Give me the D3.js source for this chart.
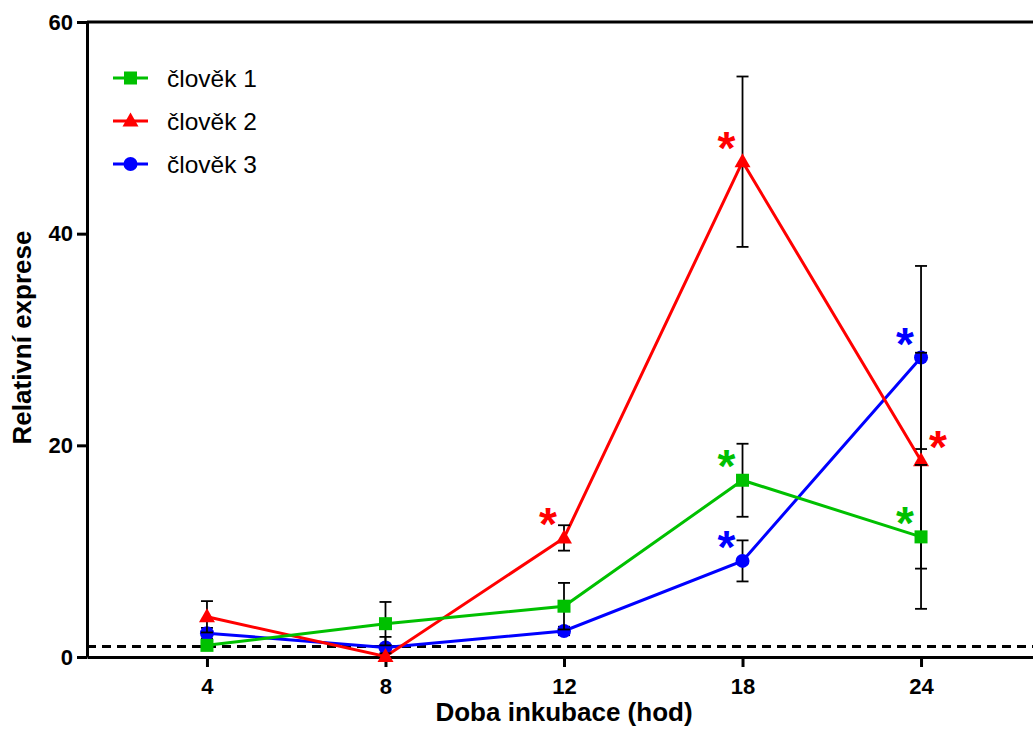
<!DOCTYPE html>
<html>
<head>
<meta charset="utf-8">
<script src="https://cdn.jsdelivr.net/npm/d3@7"></script>
<style>
  body { margin: 0; background: #fff; }
  svg { display: block; font-family: "Liberation Sans", Arial, sans-serif; }
</style>
</head>
<body>
<div id="chart"></div>
<script>
// data
var hours = ["4", "8", "12", "18", "24"];
var names = ["člověk 1", "člověk 2", "člověk 3"];
var colors = ["#00c000", "#ff0000", "#0000ff"];
var symbols = ["square", "triangle", "circle"];

var mean1 = [1.1, 3.15, 4.8, 16.7, 11.35];
var err1 = [0.3, 2.05, 2.2, 3.45, 6.8];
var mean2 = [3.8, 0.05, 11.25, 46.8, 18.55];
var err2 = [1.48, 0.3, 1.2, 8.05, 10.2];
var mean3 = [2.25, 0.9, 2.46, 9.08, 28.3];
var err3 = [0.5, 1.0, 0.4, 1.94, 8.65];

var yTicks = [0, 20, 40, 60];
var baseline = 1;

// significance stars: series index, time index, side
var stars = [
    { s: 1, i: 2, side: "left" },
    { s: 1, i: 3, side: "left" },
    { s: 1, i: 4, side: "right" },
    { s: 0, i: 3, side: "left" },
    { s: 0, i: 4, side: "left" },
    { s: 2, i: 3, side: "left" },
    { s: 2, i: 4, side: "left" }
];

{
    var width = 1033, height = 738;
    var margin = { top: 22, right: -8, bottom: 81, left: 87 };

    var series = names.map((n, k) => ({
        name: n,
        color: colors[k],
        symbol: symbols[k],
        values: [mean1, mean2, mean3][k].map((m, i) => ({
            hour: hours[i],
            mean: m,
            err: [err1, err2, err3][k][i]
        }))
    }));

    var svg = d3.select("#chart").append("svg")
        .attr("width", width)
        .attr("height", height);

    var x = d3.scalePoint()
        .domain(hours)
        .range([margin.left, width - margin.right])
        .padding(0.672);

    var y = d3.scaleLinear()
        .domain([0, 60])
        .range([height - margin.bottom, margin.top]);

    function drawSymbol(g, type, color) {
        if (type === "square") {
            g.append("rect")
                .attr("x", -6.5).attr("y", -6.5)
                .attr("width", 13).attr("height", 13)
                .attr("fill", color);
        } else if (type === "circle") {
            g.append("circle").attr("r", 7).attr("fill", color);
        } else {
            g.append("path")
                .attr("d", "M0,-8.5L8,5.5L-8,5.5Z")
                .attr("fill", color);
        }
    }

    // top frame line
    svg.append("line")
        .attr("x1", margin.left).attr("x2", width - margin.right)
        .attr("y1", y(60)).attr("y2", y(60))
        .attr("stroke", "#000").attr("stroke-width", 3);

    // axes
    var gx = svg.append("g")
        .attr("transform", `translate(0,${y(0)})`)
        .call(d3.axisBottom(x).tickSize(10).tickSizeOuter(0).tickPadding(11));

    var gy = svg.append("g")
        .attr("transform", `translate(${margin.left},0)`)
        .call(d3.axisLeft(y).tickValues(yTicks).tickSize(10).tickSizeOuter(0).tickPadding(4));

    [gx, gy].forEach(g => {
        g.select(".domain").attr("stroke-width", 3);
        g.selectAll(".tick line").attr("stroke-width", 3);
        g.selectAll(".tick text")
            .attr("font-size", 22)
            .attr("font-weight", "bold")
            .attr("font-family", "Liberation Sans, Arial, sans-serif")
            .attr("fill", "#000");
    });

    // dashed baseline at 1
    svg.append("line")
        .attr("x1", margin.left).attr("x2", width - margin.right)
        .attr("y1", y(baseline)).attr("y2", y(baseline))
        .attr("stroke", "#000")
        .attr("stroke-width", 3)
        .attr("stroke-dasharray", "9,6");

    var line = d3.line()
        .x(d => x(d.hour))
        .y(d => y(d.mean));

    // draw blue, red, green so green sits on top
    series.slice().reverse().forEach(s => {
        var g = svg.append("g");

        g.append("path")
            .datum(s.values)
            .attr("fill", "none")
            .attr("stroke", s.color)
            .attr("stroke-width", 3)
            .attr("d", line);

        var eb = g.selectAll(".eb")
            .data(s.values)
            .enter().append("g")
            .attr("stroke", "#000")
            .attr("stroke-width", 1.8);

        eb.append("line")
            .attr("x1", d => x(d.hour)).attr("x2", d => x(d.hour))
            .attr("y1", d => y(d.mean + d.err))
            .attr("y2", d => y(Math.max(0, d.mean - d.err)));
        eb.append("line")
            .attr("x1", d => x(d.hour) - 6).attr("x2", d => x(d.hour) + 6)
            .attr("y1", d => y(d.mean + d.err)).attr("y2", d => y(d.mean + d.err));
        eb.filter(d => d.mean - d.err > 0).append("line")
            .attr("x1", d => x(d.hour) - 6).attr("x2", d => x(d.hour) + 6)
            .attr("y1", d => y(d.mean - d.err)).attr("y2", d => y(d.mean - d.err));

        g.selectAll(".pt")
            .data(s.values)
            .enter().append("g")
            .attr("transform", d => `translate(${x(d.hour)},${y(d.mean)})`)
            .each(function () { drawSymbol(d3.select(this), s.symbol, s.color); });
    });

    // stars
    var starSize = 46;
    svg.selectAll(".star")
        .data(stars)
        .enter().append("text")
        .attr("x", d => x(hours[d.i]) + (d.side === "left" ? -16 : 17))
        .attr("y", d => y(series[d.s].values[d.i].mean) - 24 + starSize * 0.57)
        .attr("text-anchor", "middle")
        .attr("font-size", starSize)
        .attr("font-weight", "bold")
        .attr("fill", d => colors[d.s])
        .text("*");

    // legend
    var legend = svg.append("g")
        .attr("transform", "translate(113,78)");

    series.forEach((s, k) => {
        var row = legend.append("g")
            .attr("transform", `translate(0,${k * 43})`);
        row.append("line")
            .attr("x1", 0).attr("x2", 35)
            .attr("stroke", s.color).attr("stroke-width", 3);
        var m = row.append("g").attr("transform", "translate(17.5,0)");
        drawSymbol(m, s.symbol, s.color);
        row.append("text")
            .attr("x", 54)
            .attr("dy", "0.35em")
            .attr("font-size", 24.5)
            .text(s.name);
    });

    // axis titles
    svg.append("text")
        .attr("x", (margin.left + 1041) / 2)
        .attr("y", 721)
        .attr("text-anchor", "middle")
        .attr("font-size", 26)
        .attr("font-weight", "bold")
        .text("Doba inkubace (hod)");

    svg.append("text")
        .attr("transform", `translate(31,${(y(0) + y(60)) / 2 - 2}) rotate(-90)`)
        .attr("text-anchor", "middle")
        .attr("font-size", 26)
        .attr("font-weight", "bold")
        .text("Relativní exprese");
}
</script>
</body>
</html>
